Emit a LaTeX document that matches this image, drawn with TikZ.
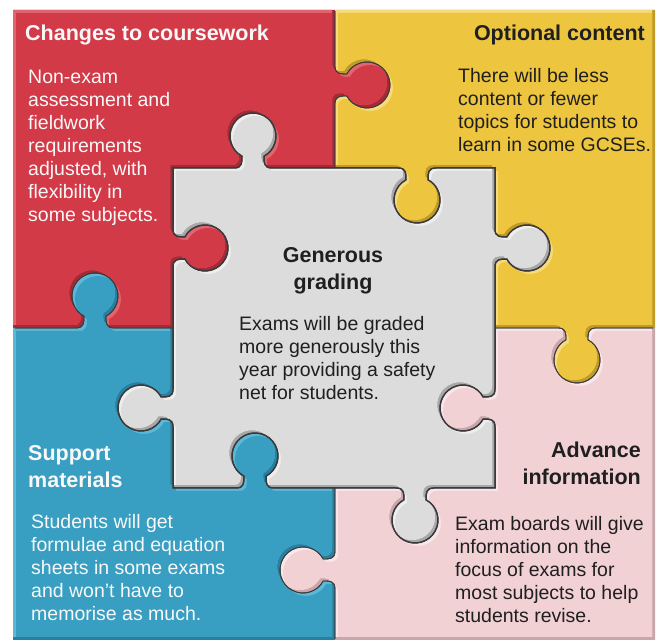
\documentclass[tikz,border=0pt]{standalone}
\usepackage{fontspec}
\setmainfont{Liberation Sans}
\usetikzlibrary{calc}
\definecolor{redM}{HTML}{D23A48}
\definecolor{redL}{HTML}{E1656F}
\definecolor{redD}{HTML}{A52A36}
\definecolor{yelM}{HTML}{EDC53E}
\definecolor{yelL}{HTML}{F6DB7C}
\definecolor{yelD}{HTML}{C19B25}
\definecolor{bluM}{HTML}{389EC2}
\definecolor{bluL}{HTML}{5DB8D7}
\definecolor{bluD}{HTML}{27809F}
\definecolor{pinM}{HTML}{F1D1D4}
\definecolor{pinL}{HTML}{F9E6E8}
\definecolor{pinD}{HTML}{C9A6AA}
\definecolor{graM}{HTML}{DCDCDC}
\definecolor{graL}{HTML}{EEEEEE}
\definecolor{graD}{HTML}{A8A8A8}
\definecolor{outl}{HTML}{3A3A3A}
\definecolor{txtD}{HTML}{1F1F1F}
\definecolor{txtW}{HTML}{F8F8F8}
% knob protruding left / right of the travel direction #3, centred at (#1,#2) on the edge
\newcommand\kL[3]{-- ($(#1,#2)+(#3+180:19)$) .. controls ($(#1,#2)+(#3+180:11)$) and ($(#1,#2)+(#3+180:11)+(#3+90:5)$) .. ($(#1,#2)+(#3+180:11)+(#3+90:11.8)$) arc[start angle=#3+241.4, end angle=#3-61.4, radius=23] .. controls ($(#1,#2)+(#3:11)+(#3+90:5)$) and ($(#1,#2)+(#3:11)$) .. ($(#1,#2)+(#3:19)$)}
\newcommand\kR[3]{-- ($(#1,#2)+(#3+180:19)$) .. controls ($(#1,#2)+(#3+180:11)$) and ($(#1,#2)+(#3+180:11)+(#3-90:5)$) .. ($(#1,#2)+(#3+180:11)+(#3-90:11.8)$) arc[start angle=#3+118.6, end angle=#3+421.4, radius=23] .. controls ($(#1,#2)+(#3:11)+(#3-90:5)$) and ($(#1,#2)+(#3:11)$) .. ($(#1,#2)+(#3:19)$)}
\def\redP{(13,630) -- (335,630) \kL{335}{555}{-90} -- (335,472) \kR{253}{472}{180} -- (173,472) \kL{173}{392}{-90} -- (173,312) \kR{95}{312}{180} -- (13,312) -- cycle}
\def\yelP{(335,630) -- (655,630) -- (655,312) \kL{577}{312}{180} -- (495,312) \kR{495}{392}{90} -- (495,472) \kL{417}{472}{180} -- (335,472) \kR{335}{555}{90} -- cycle}
\def\bluP{(13,312) \kL{95}{312}{0} -- (173,312) \kR{173}{232}{-90} -- (173,152) \kL{255}{152}{0} -- (335,152) \kR{335}{70}{-90} -- (335,0) -- (13,0) -- cycle}
\def\pinP{(495,312) \kR{577}{312}{0} -- (655,312) -- (655,0) -- (335,0) \kL{335}{70}{90} -- (335,152) \kR{415}{152}{0} -- (495,152) \kL{495}{232}{90} -- cycle}
\def\graP{(173,472) \kL{253}{472}{0} \kR{417}{472}{0} -- (495,472) \kL{495}{392}{-90} \kR{495}{232}{-90} -- (495,152) \kL{415}{152}{180} \kR{255}{152}{180} -- (173,152) \kL{173}{232}{90} \kR{173}{392}{90} -- cycle}
\newcommand\piece[4]{%
  \begin{scope}
    \clip #1;
    \fill[#4] #1;
    \fill[#3, shift={(-3,3)}] #1;
    \begin{scope}
      \clip[shift={(-3,3)}] #1;
      \fill[#2, shift={(3,-3)}] #1;
    \end{scope}
  \end{scope}}
\newcommand\ttf{\fontsize{21.5}{27.5}\selectfont\bfseries}
\newcommand\bdf{\fontsize{19.5}{23}\selectfont}
\newcommand\bodystrut{\rule{0pt}{16pt}}
\newcommand\titlestrut{\rule{0pt}{17pt}}
\tikzset{
  ttl/.style={font=\ttf, inner sep=0pt},
  bdy/.style={font=\bdf, inner sep=0pt, align=left},
  pline/.style={draw=outl, line width=1.1pt},
}
\begin{document}
\begin{tikzpicture}[x=1pt,y=1pt]
\useasboundingbox (0,0) rectangle (662,640);
\fill[white] (0,0) rectangle (662,640);
\piece{\redP}{redM}{redL}{redD}
\piece{\yelP}{yelM}{yelL}{yelD}
\piece{\bluP}{bluM}{bluL}{bluD}
\piece{\pinP}{pinM}{pinL}{pinD}
\piece{\graP}{graM}{graL}{graD}
\begin{scope}
  \clip (15,1.5) rectangle (653,628);
  \draw[pline, line width=0.8pt] \redP;
  \draw[pline, line width=0.8pt] \yelP;
  \draw[pline, line width=0.8pt] \bluP;
  \draw[pline, line width=0.8pt] \pinP;
  \draw[pline, line width=1.5pt] \graP;
\end{scope}
% red
\node[ttl, text=txtW, anchor=base west] (rt) at (25,599) {Changes to coursework};
\node[bdy, text=txtW, anchor=north west] (rb) at (28,573) {\bodystrut Non-exam\\assessment and\\fieldwork\\requirements\\adjusted, with\\flexibility in\\some subjects.};
% yellow
\node[ttl, text=txtD, anchor=base east] (yt) at (645,599) {Optional content};
\node[bdy, text=txtD, anchor=north west] (yb) at (458,574) {\bodystrut There will be less\\content or fewer\\topics for students to\\learn in some GCSEs.};
% grey
\node[ttl, text=txtD, anchor=north, align=center] (gt) at (333,395) {\titlestrut Generous\\grading};
\node[bdy, text=txtD, anchor=north west] (gb) at (239,326) {\bodystrut Exams will be graded\\more generously this\\year providing a safety\\net for students.};
% blue
\node[ttl, text=txtW, anchor=north west, align=left] (bt) at (28,197) {\titlestrut Support\\materials};
\node[bdy, text=txtW, anchor=north west] (bb) at (31,128) {\bodystrut Students will get\\formulae and equation\\sheets in some exams\\and won't have to\\memorise as much.};
% pink
\node[ttl, text=txtD, anchor=north east, align=right] (pt) at (641,200) {\titlestrut Advance\\information};
\node[bdy, text=txtD, anchor=north west] (pb) at (455,126) {\bodystrut Exam boards will give\\information on the\\focus of exams for\\most subjects to help\\students revise.};
\end{tikzpicture}
\end{document}
